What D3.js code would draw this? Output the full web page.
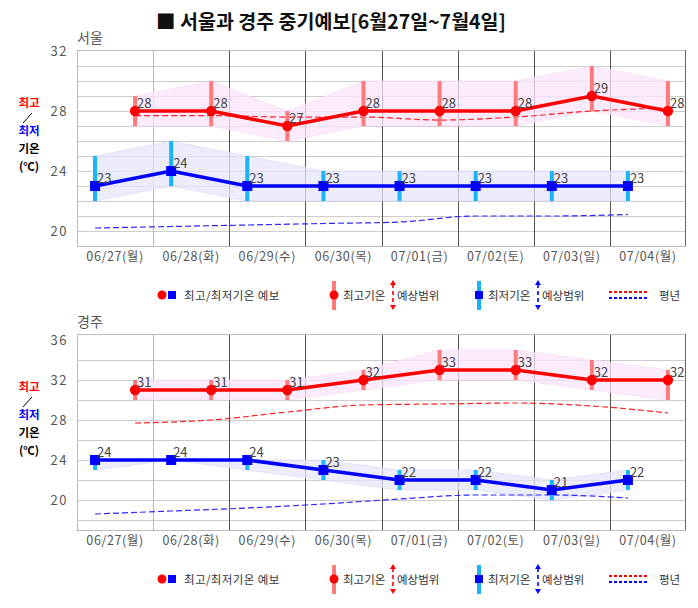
<!DOCTYPE html>
<html><head><meta charset="utf-8">
<script src="https://cdn.jsdelivr.net/npm/d3@7"></script>
<style>
body{margin:0;background:#fff;}
text{font-family:"Noto Sans CJK KR","Noto Sans",sans-serif;}
</style>
</head><body>
<svg id="c" width="698" height="608"></svg>
<script>
const days = ["06/27(월)","06/28(화)","06/29(수)","06/30(목)","07/01(금)","07/02(토)","07/03(일)","07/04(월)"];

const seoulMax     = [28,28,27,28,28,28,29,28];
const seoulMaxLow  = [27,27,26,27,27,27,28,27];
const seoulMaxHigh = [29,30,28,30,30,30,31,30];
const seoulMin     = [23,24,23,23,23,23,23,23];
const seoulMinLow  = [22,23,22,22,22,22,22,22];
const seoulMinHigh = [25,26,25,24,24,24,24,24];
const seoulNormMax = [27.7,27.7,27.6,27.6,27.4,27.6,28.0,28.2];
const seoulNormMin = [20.2,20.3,20.4,20.5,20.6,21.0,21.0,21.1];

const gjMax     = [31,31,31,32,33,33,32,32];
const gjMaxLow  = [30,30,30,31,32,32,31,30];
const gjMaxHigh = [32,32,32,33,35,35,34,33];
const gjMin     = [24,24,24,23,22,22,21,22];
const gjMinLow  = [23,24,23,22,21,21,20,21];
const gjMinHigh = [24,24,24,24,23,23,22,23];
const gjNormMax = [27.7,28.0,28.8,29.5,29.6,29.7,29.4,28.7];
const gjNormMin = [18.6,18.9,19.2,19.6,20.1,20.5,20.5,20.2];

const seoulTickLabels = [20,24,28,32];
const seoulGrid = [20,21,22,23,24,25,26,27,28,29,30,31];
const gjTickLabels = [20,24,28,32,36];
const gjGrid = [18,20,22,24,26,28,30,32,34];

const svg = d3.select("#c");

// Title
svg.append("text").attr("x",331).attr("y",29).attr("text-anchor","middle")
  .attr("font-size",19.5).attr("font-weight","bold").attr("fill","#111")
  .text("■ 서울과 경주 중기예보[6월27일~7월4일]");

const X0 = 77, X1 = 686, TOP = 50, BOT = 246;
const x = d3.scaleBand().domain(days).range([X0, X1]);
const bw = x.bandwidth();
const xMin = i => x(days[i]) + bw*0.237;
const xMax = i => x(days[i]) + bw*0.763;

function drawChart(offset, name, yDomain, tickLabels, grid, mx, mxLo, mxHi, mn, mnLo, mnHi, nMax, nMin){
  const g = svg.append("g").attr("transform",`translate(0,${offset})`);
  const y = d3.scaleLinear().domain(yDomain).range([BOT, TOP]);
  const idx = d3.range(days.length);

  // horizontal gridlines
  g.append("g").attr("transform",`translate(${X0},0)`)
    .call(d3.axisLeft(y).tickValues(grid).tickSize(-(X1-X0)).tickFormat(""))
    .call(s=>{s.select(".domain").remove(); s.selectAll("line").attr("stroke","#cccccc");});

  // vertical gridlines
  g.selectAll(".vg").data(idx.slice(1)).join("line")
    .attr("x1",i=>Math.round(x(days[i]))+0.5).attr("x2",i=>Math.round(x(days[i]))+0.5)
    .attr("y1",TOP).attr("y2",BOT)
    .attr("stroke",i=> i===1 ? "#bbbbbb" : "#555555");
  // border
  g.append("line").attr("x1",X0+0.5).attr("x2",X0+0.5).attr("y1",TOP).attr("y2",BOT).attr("stroke","#bbbbbb");
  g.append("line").attr("x1",X0).attr("x2",X1).attr("y1",TOP+0.5).attr("y2",TOP+0.5).attr("stroke","#bbbbbb");
  g.append("line").attr("x1",X0).attr("x2",X1).attr("y1",BOT+0.5).attr("y2",BOT+0.5).attr("stroke","#bbbbbb");
  g.append("line").attr("x1",X1-0.5).attr("x2",X1-0.5).attr("y1",TOP).attr("y2",BOT).attr("stroke","#666666");

  // y tick labels
  g.append("g").attr("transform",`translate(${X0-6},0)`)
    .call(d3.axisLeft(y).tickValues(tickLabels).tickSize(0).tickFormat(d3.format("d")))
    .call(s=>{s.select(".domain").remove();
      s.selectAll("text").attr("font-size",13).attr("fill","#555").attr("letter-spacing","1.5px")
        .attr("font-family",'"Noto Sans CJK KR",sans-serif');});

  // x labels
  g.append("g").attr("transform",`translate(0,${BOT+3})`)
    .call(d3.axisBottom(x).tickSize(0))
    .call(s=>{s.select(".domain").remove();
      s.selectAll("text").attr("font-size",12.5).attr("fill","#555").attr("letter-spacing","0.6px")
        .attr("font-family",'"Noto Sans CJK KR",sans-serif');});

  // station name
  g.append("text").attr("x",X0).attr("y",43).attr("font-size",14).attr("fill","#555").text(name);

  // left label
  const ll = g.append("g").attr("font-size",11.5).attr("font-weight","bold").attr("text-anchor","middle");
  ll.append("text").attr("x",29).attr("y",107).attr("fill","#ff0000").text("최고");
  ll.append("line").attr("x1",23).attr("y1",123).attr("x2",32).attr("y2",113).attr("stroke","#000").attr("stroke-width",1);
  ll.append("text").attr("x",29).attr("y",135).attr("fill","#0000ff").text("최저");
  ll.append("text").attr("x",29).attr("y",153).attr("fill","#000").text("기온");
  ll.append("text").attr("x",29).attr("y",171).attr("fill","#000").text("(℃)");

  // range bands
  g.append("path").datum(idx)
    .attr("d", d3.area().x(i=>xMax(i)).y0(i=>y(mxLo[i])).y1(i=>y(mxHi[i])))
    .attr("fill","#fbe4fb").attr("fill-opacity",0.75).attr("stroke","#f6d8f4").attr("stroke-width",0.6);
  g.append("path").datum(idx)
    .attr("d", d3.area().x(i=>xMin(i)).y0(i=>y(mnLo[i])).y1(i=>y(mnHi[i])))
    .attr("fill","#e6e6fb").attr("fill-opacity",0.75).attr("stroke","#d8d8f5").attr("stroke-width",0.6);

  // normal lines
  g.append("path").datum(idx)
    .attr("d", d3.line().x(i=>xMax(i)).y(i=>y(nMax[i])).curve(d3.curveMonotoneX))
    .attr("fill","none").attr("stroke","#ff2020").attr("stroke-width",1.2).attr("stroke-dasharray","6,3");
  g.append("path").datum(idx)
    .attr("d", d3.line().x(i=>xMin(i)).y(i=>y(nMin[i])).curve(d3.curveMonotoneX))
    .attr("fill","none").attr("stroke","#2a2aff").attr("stroke-width",1.2).attr("stroke-dasharray","6,3");

  // error bars
  g.selectAll(".eb1").data(idx).join("rect")
    .attr("x",i=>xMax(i)-2).attr("width",4)
    .attr("y",i=>y(mxHi[i])).attr("height",i=>y(mxLo[i])-y(mxHi[i]))
    .attr("fill","#ff7b7b");
  g.selectAll(".eb2").data(idx).join("rect")
    .attr("x",i=>xMin(i)-2).attr("width",4)
    .attr("y",i=>y(mnHi[i])).attr("height",i=>y(mnLo[i])-y(mnHi[i]))
    .attr("fill","#1ab4fa");

  // main lines
  g.append("path").datum(idx)
    .attr("d", d3.line().x(i=>xMax(i)).y(i=>y(mx[i])))
    .attr("fill","none").attr("stroke","#ff0000").attr("stroke-width",3.5);
  g.append("path").datum(idx)
    .attr("d", d3.line().x(i=>xMin(i)).y(i=>y(mn[i])))
    .attr("fill","none").attr("stroke","#0000ff").attr("stroke-width",3.5);

  // markers
  g.selectAll(".pm").data(idx).join("circle")
    .attr("cx",i=>xMax(i)).attr("cy",i=>y(mx[i])).attr("r",5.2).attr("fill","#ff0000");
  g.selectAll(".pn").data(idx).join("rect")
    .attr("x",i=>xMin(i)-5).attr("y",i=>y(mn[i])-5).attr("width",10).attr("height",10).attr("fill","#0000ff");

  // value labels
  g.selectAll(".lm").data(idx).join("text")
    .attr("x",i=>xMax(i)+2).attr("y",i=>y(mx[i])-3).attr("font-size",13).attr("fill","#444")
    .text(i=>mx[i]);
  g.selectAll(".ln").data(idx).join("text")
    .attr("x",i=>xMin(i)+2).attr("y",i=>y(mn[i])-3).attr("font-size",13).attr("fill","#444")
    .text(i=>mn[i]);

  // legend
  const LY = 295;
  const lg = g.append("g").attr("font-size",11.5).attr("fill","#333");
  lg.append("circle").attr("cx",162).attr("cy",LY).attr("r",4.5).attr("fill","#ff0000");
  lg.append("rect").attr("x",168).attr("y",LY-4).attr("width",8).attr("height",8).attr("fill","#0000ff");
  lg.append("text").attr("x",184).attr("y",LY+4.5).attr("fill","#333").attr("letter-spacing","0.4px").text("최고/최저기온 예보");

  lg.append("rect").attr("x",332).attr("y",LY-14).attr("width",4).attr("height",29).attr("fill","#ff7b7b");
  lg.append("circle").attr("cx",334).attr("cy",LY).attr("r",4.5).attr("fill","#ff0000");
  const t2 = lg.append("text").attr("y",LY+4.5).attr("fill","#333");
  t2.append("tspan").attr("x",343).text("최고기온 ");
  t2.append("tspan").attr("x",397).text("예상범위");
  arrow(lg, 393, LY, "#ff0000");

  lg.append("rect").attr("x",477).attr("y",LY-14).attr("width",4).attr("height",29).attr("fill","#1ab4fa");
  lg.append("rect").attr("x",475).attr("y",LY-4).attr("width",8).attr("height",8).attr("fill","#0000ff");
  const t3 = lg.append("text").attr("y",LY+4.5).attr("fill","#333");
  t3.append("tspan").attr("x",488).text("최저기온 ");
  t3.append("tspan").attr("x",542).text("예상범위");
  arrow(lg, 538, LY, "#0000ff");

  lg.append("line").attr("x1",609).attr("x2",647).attr("y1",LY-3).attr("y2",LY-3)
    .attr("stroke","#ff0000").attr("stroke-width",2).attr("stroke-dasharray","3,2");
  lg.append("line").attr("x1",609).attr("x2",647).attr("y1",LY+3).attr("y2",LY+3)
    .attr("stroke","#0000ff").attr("stroke-width",2).attr("stroke-dasharray","3,2");
  lg.append("text").attr("x",659).attr("y",LY+4.5).attr("fill","#333").text("평년");
}

function arrow(g, ax, cy, col){
  g.append("line").attr("x1",ax).attr("x2",ax).attr("y1",cy-11).attr("y2",cy+11)
    .attr("stroke",col).attr("stroke-width",1.6).attr("stroke-dasharray","4,3");
  g.append("path").attr("d",`M${ax-3},${cy-10}L${ax},${cy-15}L${ax+3},${cy-10}Z`).attr("fill",col);
  g.append("path").attr("d",`M${ax-3},${cy+10}L${ax},${cy+15}L${ax+3},${cy+10}Z`).attr("fill",col);
}

drawChart(0, "서울", [19, 32.07], seoulTickLabels, seoulGrid,
  seoulMax, seoulMaxLow, seoulMaxHigh, seoulMin, seoulMinLow, seoulMinHigh, seoulNormMax, seoulNormMin);
drawChart(284, "경주", [17, 36.6], gjTickLabels, gjGrid,
  gjMax, gjMaxLow, gjMaxHigh, gjMin, gjMinLow, gjMinHigh, gjNormMax, gjNormMin);
</script>
</body></html>
